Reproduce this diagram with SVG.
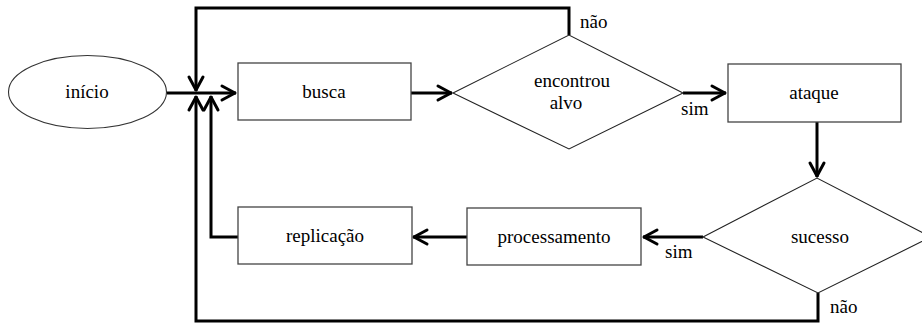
<svg xmlns="http://www.w3.org/2000/svg" width="922" height="324" viewBox="0 0 922 324">
<style>
.box{fill:#fff;stroke:#444;stroke-width:1.3}
.dia{fill:#fff;stroke:#222;stroke-width:1.1}
text{font-family:'Liberation Serif','Times New Roman',serif;font-size:19px;fill:#000}
.t{text-anchor:middle}
.c{fill:none;stroke:#000;stroke-width:3;stroke-linejoin:miter}
</style>
<defs>
<marker id="ah" markerUnits="userSpaceOnUse" viewBox="-16 -10 20 20" refX="1" refY="0" markerWidth="20" markerHeight="20" orient="auto">
<path d="M-13,-7 L0,0 L-13,7" fill="none" stroke="#000" stroke-width="3" stroke-linejoin="round" stroke-linecap="round"/>
</marker>
</defs>
<g id="connectors">
<path class="c" d="M167,93 H236" marker-end="url(#ah)"/>
<path class="c" d="M569,35 V8 H196 V91" marker-end="url(#ah)"/>
<path class="c" d="M411,93 H452" marker-end="url(#ah)"/>
<path class="c" d="M683,93 H726" marker-end="url(#ah)"/>
<path class="c" d="M817,122 V177" marker-end="url(#ah)"/>
<path class="c" d="M703,237 H643" marker-end="url(#ah)"/>
<path class="c" d="M467,237 H413" marker-end="url(#ah)"/>
<path class="c" d="M238,237 H211 V96" marker-end="url(#ah)"/>
<path class="c" d="M818,293 V321 H196 V96" marker-end="url(#ah)"/>
<text x="580" y="28">não</text>
<text x="681" y="115">sim</text>
<text x="665" y="258">sim</text>
<text x="830" y="313">não</text>
</g>
<g id="inicio">
<ellipse cx="87.5" cy="92" rx="79" ry="36.5" fill="#fff" stroke="#333" stroke-width="1.1"/>
<text class="t" x="87" y="98">início</text>
</g>
<g id="busca">
<rect class="box" x="238" y="63" width="173" height="57"/>
<text class="t" x="324" y="98">busca</text>
</g>
<g id="encontrou">
<polygon class="dia" points="453,93 569,35 683,93 569,149"/>
<text class="t" x="572" y="87">encontrou</text>
<text class="t" x="566" y="109">alvo</text>
</g>
<g id="ataque">
<rect class="box" x="728" y="64" width="173" height="58"/>
<text class="t" x="814" y="99">ataque</text>
</g>
<g id="sucesso">
<polygon class="dia" points="703,237 817,178 931,237 818,293"/>
<text class="t" x="820" y="243">sucesso</text>
</g>
<g id="processamento">
<rect class="box" x="467" y="208" width="174" height="57"/>
<text class="t" x="554" y="243">processamento</text>
</g>
<g id="replicacao">
<rect class="box" x="238" y="207" width="174" height="57"/>
<text class="t" x="325" y="242">replicação</text>
</g>
</svg>
